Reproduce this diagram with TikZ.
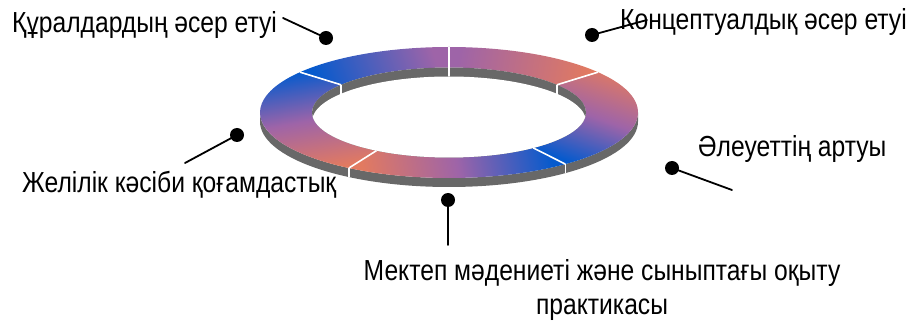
\documentclass[tikz,border=0pt]{standalone}
\usepackage{fontspec}
\setmainfont[FakeStretch=0.85]{Liberation Sans}
\usepackage{tkz-euclide}
\usetikzlibrary{calc}
\definecolor{ringblue}{RGB}{5,90,205}
\definecolor{ringsalmon}{RGB}{226,122,96}
\definecolor{ringpurple}{RGB}{158,100,168}
\definecolor{ringside}{RGB}{104,104,104}
\tikzset{dot/.style={circle,fill=black,inner sep=0pt,minimum size=14pt},
  lbl/.style={inner sep=0pt,font=\fontsize{29}{34}\selectfont},
  divider/.style={white,line width=1.6pt}}
\def\Rx{189}\def\Ry{65.5}\def\rx{137}\def\ry{45}\def\ringT{9}

\begin{document}
\begin{tikzpicture}[x=1pt,y=1pt]
\useasboundingbox (0,0) rectangle (909,321);
\coordinate (c) at (449,208.5);
\fill[ringside] ($(c)+(-\Rx,0)$) arc[start angle=180,end angle=360,x radius=\Rx,y radius=\Ry] -- ++(0,-\ringT) arc[start angle=0,end angle=-180,x radius=\Rx,y radius=\Ry] -- cycle;
\foreach \a/\b/\ca/\cb/\cm/\sa in {38/90/ringpurple/ringsalmon/ringpurple!50!ringsalmon/80, 90/142/ringblue/ringpurple/ringblue!50!ringpurple/110, -52/38/ringblue/ringsalmon/ringpurple/160, 238/308/ringsalmon/ringblue/ringpurple/100, 142/238/ringsalmon/ringblue/ringpurple/190}
  \path[left color=\ca,right color=\cb,middle color=\cm,shading angle=\sa] ($(c)+(\a:{\Rx} and {\Ry})$) arc[start angle=\a,end angle=\b,x radius=\Rx,y radius=\Ry] -- ($(c)+(\b:{\rx} and {\ry})$) arc[start angle=\b,end angle=\a,x radius=\rx,y radius=\ry] -- cycle;
\fill[ringside] (c) ellipse[x radius=\rx,y radius=\ry];
\begin{scope}
\clip (c) ellipse[x radius=\rx,y radius=\ry];
\fill[white] ($(c)+(0,-\ringT)$) ellipse[x radius=\rx,y radius=\ry];
\end{scope}
\foreach \a in {142,90,38,-52,-122}
  \draw[divider] ($(c)+(\a:{\Rx} and {\Ry})$) -- ($(c)+(\a:{\rx} and {\ry})$);
\foreach \a in {142,90,38}
  \draw[divider] ($(c)+(\a:{\rx} and {\ry})$) -- ++(0,-\ringT);
\foreach \a in {-52,-122}
  \draw[divider] ($(c)+(\a:{\Rx} and {\Ry})$) -- ++(0,-\ringT);
\node[lbl,anchor=base west] (t1) at (12,288) {Құралдардың әсер етуі};
\node[lbl,anchor=base west] (t2) at (620,291) {Концептуалдық әсер етуі};
\node[lbl,anchor=base west] (t3) at (22,128) {Желілік кәсіби қоғамдастық};
\node[lbl,anchor=base west] (t4) at (698,164) {Әлеуеттің артуы};
\node[lbl,align=center,anchor=north] (t5) at (602,62) {Мектеп мәдениеті және сыныптағы оқыту\\практикасы};
\node[dot] (p1) at (326,283) {};
\node[dot] (p2) at (592,286) {};
\node[dot] (p3) at (237,186) {};
\node[dot] (p4) at (672,153) {};
\node[dot] (p5) at (448,121) {};
\tkzDefPoint(283,303){e1}
\tkzDefPoint(647,301){e2}
\tkzDefPoint(185,158){e3}
\tkzDefPoint(732,131){e4}
\tkzDefPoint(448,76){e5}
\tkzDrawSegments[line width=1.8pt](p1,e1 p2,e2 p3,e3 p4,e4 p5,e5)
\end{tikzpicture}
\end{document}
